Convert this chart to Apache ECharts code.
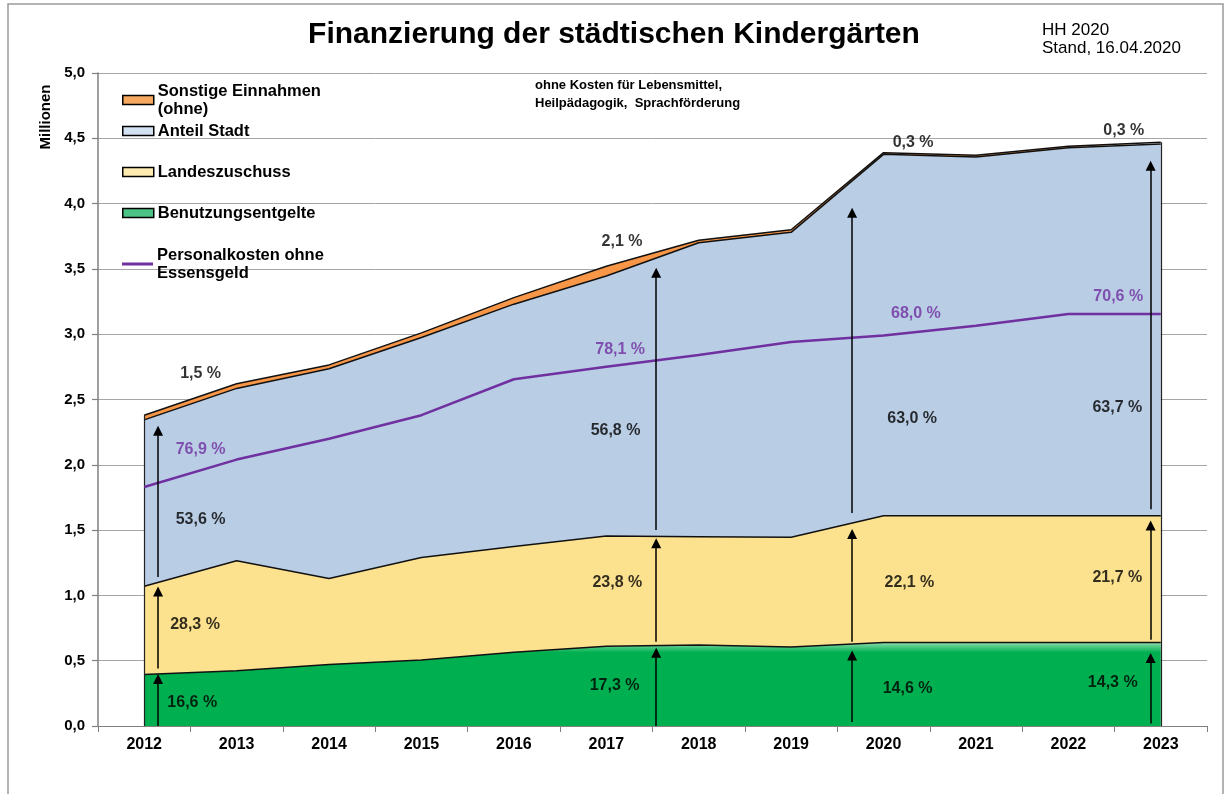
<!DOCTYPE html>
<html>
<head>
<meta charset="utf-8">
<title>Finanzierung der städtischen Kindergärten</title>
<script src="https://cdn.jsdelivr.net/npm/echarts@6/dist/echarts.min.js"></script>
<style>
  html, body { margin: 0; padding: 0; background: #fff; }
  #chart { width: 1228px; height: 794px; }
</style>
</head>
<body>
<div id="chart"></div>
<script>
// Jahre (HH 2020)
const years = ['2012', '2013', '2014', '2015', '2016', '2017', '2018', '2019', '2020', '2021', '2022', '2023'];
// Werte in Mio. EUR
const benutzungsentgelte = [0.395, 0.423, 0.47, 0.505, 0.565, 0.61, 0.62, 0.605, 0.64, 0.64, 0.64, 0.64];
const landeszuschuss = [0.675, 0.842, 0.66, 0.785, 0.81, 0.845, 0.83, 0.84, 0.97, 0.97, 0.97, 0.97];
const anteilStadt = [1.274, 1.32, 1.605, 1.685, 1.855, 1.991, 2.25, 2.335, 2.767, 2.747, 2.817, 2.847];
const sonstigeEinnahmen = [0.036, 0.035, 0.03, 0.035, 0.05, 0.074, 0.02, 0.02, 0.013, 0.013, 0.013, 0.013];
const personalkosten = [1.83, 2.04, 2.2, 2.38, 2.655, 2.75, 2.84, 2.94, 2.99, 3.065, 3.155, 3.155];

// Anteile in Prozent (Beschriftung) – Position als Kategorie-Index / Mio.
const pctText = ['1,5 %', '76,9 %', '53,6 %', '28,3 %', '16,6 %',
                 '2,1 %', '78,1 %', '56,8 %', '23,8 %', '17,3 %',
                 '0,3 %', '68,0 %', '63,0 %', '22,1 %', '14,6 %',
                 '0,3 %', '70,6 %', '63,7 %', '21,7 %', '14,3 %'];
const pctAt = [[0.61, 2.695], [0.61, 2.113], [0.61, 1.577], [0.55, 0.773], [0.52, 0.176],
               [5.17, 3.706], [5.15, 2.879], [5.1, 2.259], [5.12, 1.1], [5.09, 0.306],
               [8.32, 4.47], [8.35, 3.16], [8.31, 2.35], [8.28, 1.1], [8.26, 0.29],
               [10.6, 4.56], [10.54, 3.29], [10.53, 2.435], [10.53, 1.133], [10.48, 0.33]];
const pctPersonal = [1, 6, 11, 16]; // lila Beschriftungen

// Pfeile: x als Kategorie-Index, Spannen [von, bis] in Mio.
const arrowX = [0.15, 5.54, 7.66, 10.89];
const arrowSpans = [
  [[0, 0.36], [0.44, 1.03], [1.14, 2.26]],
  [[0, 0.56], [0.645, 1.4], [1.5, 3.47]],
  [[0.03, 0.54], [0.645, 1.47], [1.63, 3.93]],
  [[0.02, 0.52], [0.66, 1.535], [1.66, 4.29]]
];

const font = '"Liberation Sans", Arial, sans-serif';
const total = years.map((y, i) => benutzungsentgelte[i] + landeszuschuss[i] + anteilStadt[i] + sonstigeEinnahmen[i]);

let myChart = echarts.init(document.getElementById('chart'));

let arrowData = [];
arrowX.forEach((x, i) => {
  arrowSpans[i].forEach(s => arrowData.push({ coords: [[x, s[0]], [x, s[1]]] }));
});
// seitliche Kanten der Flaeche
let edgeData = [
  { coords: [[0, 0], [0, total[0]]] },
  { coords: [[years.length - 1, 0], [years.length - 1, total[years.length - 1]]] }
];

let labelData = pctText.map((t, i) => ({
  name: t,
  value: pctAt[i],
  label: { color: pctPersonal.indexOf(i) >= 0 ? '#7030A0' : '#000' }
}));

function legendBox(name, top, color, h) {
  return {
    show: true,
    left: 122,
    top: top,
    padding: 0,
    orient: 'vertical',
    selectedMode: false,
    icon: 'rect',
    itemWidth: 31,
    itemHeight: h,
    itemGap: 0,
    data: [{ name: name, itemStyle: { color: color, borderColor: h > 4 ? '#000' : color, borderWidth: h > 4 ? 1.5 : 0 } }],
    textStyle: { fontFamily: font, fontSize: 16.5, fontWeight: 'bold', color: '#000', lineHeight: 18, padding: [0, 0, 0, -1] }
  };
}

let option = {
  backgroundColor: '#fff',
  animation: false,
  title: [
    {
      text: 'Finanzierung der städtischen Kindergärten',
      left: 'center',
      top: 20,
      padding: 0,
      textStyle: { fontFamily: font, fontSize: 30, fontWeight: 'bold', color: '#000' }
    },
    {
      text: 'HH 2020\nStand, 16.04.2020',
      left: 1042,
      top: 21,
      padding: 0,
      textStyle: { fontFamily: font, fontSize: 17, fontWeight: 'normal', color: '#000', lineHeight: 18 }
    },
    {
      text: 'ohne Kosten für Lebensmittel,\nHeilpädagogik,  Sprachförderung',
      left: 535,
      top: 76,
      padding: 0,
      textStyle: { fontFamily: font, fontSize: 13, fontWeight: 'bold', color: '#000', lineHeight: 18 }
    }
  ],
  legend: [
    legendBox('Sonstige Einnahmen\n(ohne)', 82, '#F6A860', 9),
    legendBox('Anteil Stadt', 122, '#D4E1F2', 9),
    legendBox('Landeszuschuss', 163, '#FDEBB2', 9),
    legendBox('Benutzungsentgelte', 204, '#4CC285', 9),
    legendBox('Personalkosten ohne\nEssensgeld', 246, '#7030A0', 3)
  ],
  graphic: [
    {
      type: 'rect',
      shape: { x: 8, y: 4, width: 1215, height: 820 },
      style: { fill: 'none', stroke: '#9a9a9a', lineWidth: 1.5 },
      silent: true
    },
    {
      type: 'text',
      x: 46,
      y: 117,
      rotation: Math.PI / 2,
      style: { text: 'Millionen', fontFamily: font, fontSize: 15, fontWeight: 'bold', fill: '#000', align: 'center', verticalAlign: 'middle' },
      silent: true
    }
  ],
  grid: { left: 98, right: 21, top: 73, bottom: 68 },
  xAxis: [
    {
      type: 'category',
      data: years,
      boundaryGap: true,
      axisLine: { onZero: false, lineStyle: { color: '#808080', width: 1 } },
      axisTick: { show: true, length: 6, lineStyle: { color: '#808080' } },
      axisLabel: { margin: 11, fontFamily: font, fontSize: 16, fontWeight: 'bold', color: '#000' }
    },
    {
      type: 'value',
      min: -0.5,
      max: years.length - 0.5,
      show: false
    }
  ],
  yAxis: {
    type: 'value',
    min: 0,
    max: 5,
    interval: 0.5,
    axisLine: { show: true, onZero: false, lineStyle: { color: '#808080', width: 1.5 } },
    axisTick: { show: true, length: 6, lineStyle: { color: '#808080', width: 1.2 } },
    splitLine: { lineStyle: { color: '#a6a6a6', width: 1 } },
    axisLabel: {
      margin: 13,
      fontFamily: font, fontSize: 15, fontWeight: 'bold', color: '#000',
      formatter: v => v.toFixed(1).replace('.', ',')
    }
  },
  series: [
    {
      name: 'Benutzungsentgelte',
      type: 'line',
      stack: 'fin',
      data: benutzungsentgelte,
      symbol: 'none',
      color: '#00B050',
      lineStyle: { color: '#111', width: 1.5 },
      areaStyle: {
        color: {
          type: 'linear', x: 0, y: 0, x2: 0, y2: 1,
          colorStops: [
            { offset: 0, color: '#8fdcae' },
            { offset: 0.12, color: '#00B050' },
            { offset: 1, color: '#00B050' }
          ]
        },
        opacity: 1
      },
      z: 2
    },
    {
      name: 'Landeszuschuss',
      type: 'line',
      stack: 'fin',
      data: landeszuschuss,
      symbol: 'none',
      color: '#FCE18F',
      lineStyle: { color: '#111', width: 1.5 },
      areaStyle: { color: '#FCE18F', opacity: 1 },
      z: 2
    },
    {
      name: 'Anteil Stadt',
      type: 'line',
      stack: 'fin',
      data: anteilStadt,
      symbol: 'none',
      color: '#B9CDE5',
      lineStyle: { color: '#111', width: 1.5 },
      areaStyle: { color: '#B9CDE5', opacity: 1 },
      z: 2
    },
    {
      name: 'Sonstige Einnahmen\n(ohne)',
      type: 'line',
      stack: 'fin',
      data: sonstigeEinnahmen,
      symbol: 'none',
      color: '#F79646',
      lineStyle: { color: '#111', width: 1.5 },
      areaStyle: { color: '#F79646', opacity: 1 },
      z: 2
    },
    {
      name: 'Personalkosten ohne\nEssensgeld',
      type: 'line',
      data: personalkosten,
      symbol: 'none',
      color: '#7030A0',
      lineStyle: { color: '#7030A0', width: 2.5 },
      z: 4
    },
    {
      name: 'Kanten',
      type: 'lines',
      coordinateSystem: 'cartesian2d',
      xAxisIndex: 1,
      yAxisIndex: 0,
      data: edgeData,
      symbol: 'none',
      lineStyle: { color: '#222', width: 1.2, opacity: 1 },
      silent: true,
      z: 3
    },
    {
      name: 'Pfeile',
      type: 'lines',
      coordinateSystem: 'cartesian2d',
      xAxisIndex: 1,
      yAxisIndex: 0,
      data: arrowData,
      symbol: ['none', 'triangle'],
      symbolSize: [0, 10],
      lineStyle: { color: '#000', width: 1.5, opacity: 1 },
      silent: true,
      z: 5
    },
    {
      name: 'Anteile',
      type: 'scatter',
      xAxisIndex: 1,
      yAxisIndex: 0,
      data: labelData,
      symbolSize: 0,
      label: {
        show: true,
        position: 'inside',
        formatter: '{b}',
        fontFamily: font,
        fontSize: 16,
        fontWeight: 'bold',
        textBorderWidth: 0,
        textBorderColor: 'transparent'
      },
      silent: true,
      z: 6
    }
  ]
};

myChart.setOption(option);
</script>
</body>
</html>
